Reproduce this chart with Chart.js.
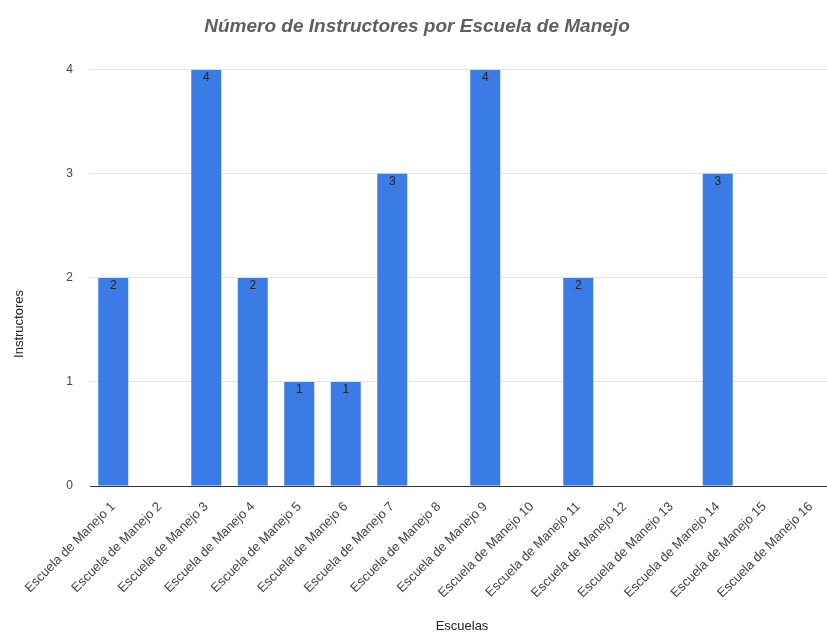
<!DOCTYPE html>
<html>
<head>
<meta charset="utf-8">
<script src="https://cdn.jsdelivr.net/npm/chart.js"></script>
<style>
  html, body { margin: 0; padding: 0; background: #fff; overflow: hidden; }
  #wrap { width: 834px; height: 635px; }
</style>
</head>
<body>
<div id="wrap"><canvas id="chart" width="834" height="635"></canvas></div>
<script>
// Datos
const escuelas = [
    'Escuela de Manejo 1', 'Escuela de Manejo 2', 'Escuela de Manejo 3', 'Escuela de Manejo 4',
    'Escuela de Manejo 5', 'Escuela de Manejo 6', 'Escuela de Manejo 7', 'Escuela de Manejo 8',
    'Escuela de Manejo 9', 'Escuela de Manejo 10', 'Escuela de Manejo 11', 'Escuela de Manejo 12',
    'Escuela de Manejo 13', 'Escuela de Manejo 14', 'Escuela de Manejo 15', 'Escuela de Manejo 16'
];
const instructores = [2, 0, 4, 2, 1, 1, 3, 0, 4, 0, 2, 0, 0, 3, 0, 0];
const yTicks = [0, 1, 2, 3, 4];

const FONT = '"Liberation Sans", Arial, sans-serif';

// Etiquetas de valor dentro de la barra + título del eje Y
const extras = {
    id: 'extras',
    afterDatasetsDraw(chart) {
        const ctx = chart.ctx;
        const meta = chart.getDatasetMeta(0);
        ctx.save();
        ctx.font = '12px ' + FONT;
        ctx.fillStyle = '#222';
        ctx.textAlign = 'center';
        ctx.textBaseline = 'top';
        meta.data.forEach((bar, i) => {
            const v = instructores[i];
            if (!v) return;
            ctx.fillText(String(v), bar.x, bar.y + 2);
        });
        ctx.restore();

        // título eje Y
        ctx.save();
        ctx.font = '13px ' + FONT;
        ctx.fillStyle = '#222';
        ctx.textAlign = 'center';
        ctx.textBaseline = 'middle';
        ctx.translate(19, 324);
        ctx.rotate(-Math.PI / 2);
        ctx.fillText('Instructores', 0, 0);
        ctx.restore();
    }
};

new Chart(document.getElementById('chart'), {
    type: 'bar',
    data: {
        labels: escuelas,
        datasets: [{
            label: 'Instructores',
            data: instructores,
            backgroundColor: '#3b7be6',
            barPercentage: 0.645,
            categoryPercentage: 1.0
        }]
    },
    options: {
        responsive: false,
        animation: false,
        layout: { padding: 0 },
        plugins: {
            legend: { display: false },
            tooltip: { enabled: false },
            title: {
                display: true,
                text: 'Número de Instructores por Escuela de Manejo',
                color: '#5f5f5f',
                font: { family: FONT, size: 19, style: 'italic', weight: 'bold' },
                padding: { top: 15, bottom: 32 }
            }
        },
        scales: {
            x: {
                afterFit(scale) { scale.height = 149; },
                grid: { display: false },
                border: { display: false },
                ticks: {
                    color: '#444',
                    font: { family: FONT, size: 13 },
                    minRotation: 45,
                    maxRotation: 45,
                    autoSkip: false,
                    padding: 5
                },
                title: {
                    display: true,
                    text: 'Escuelas',
                    color: '#222',
                    font: { family: FONT, size: 13 },
                    padding: { top: 0, bottom: 1 }
                }
            },
            y: {
                afterFit(scale) { scale.width = 90; },
                min: 0,
                max: 4,
                afterBuildTicks(scale) { scale.ticks = yTicks.map(v => ({ value: v })); },
                grid: {
                    color: (c) => c.tick && c.tick.value === 0 ? '#333' : '#e3e3e3',
                    lineWidth: 1,
                    drawTicks: false
                },
                border: { display: false },
                ticks: {
                    color: '#444',
                    font: { family: FONT, size: 12 },
                    padding: 17
                }
            }
        }
    },
    plugins: [extras]
});
</script>
</body>
</html>
